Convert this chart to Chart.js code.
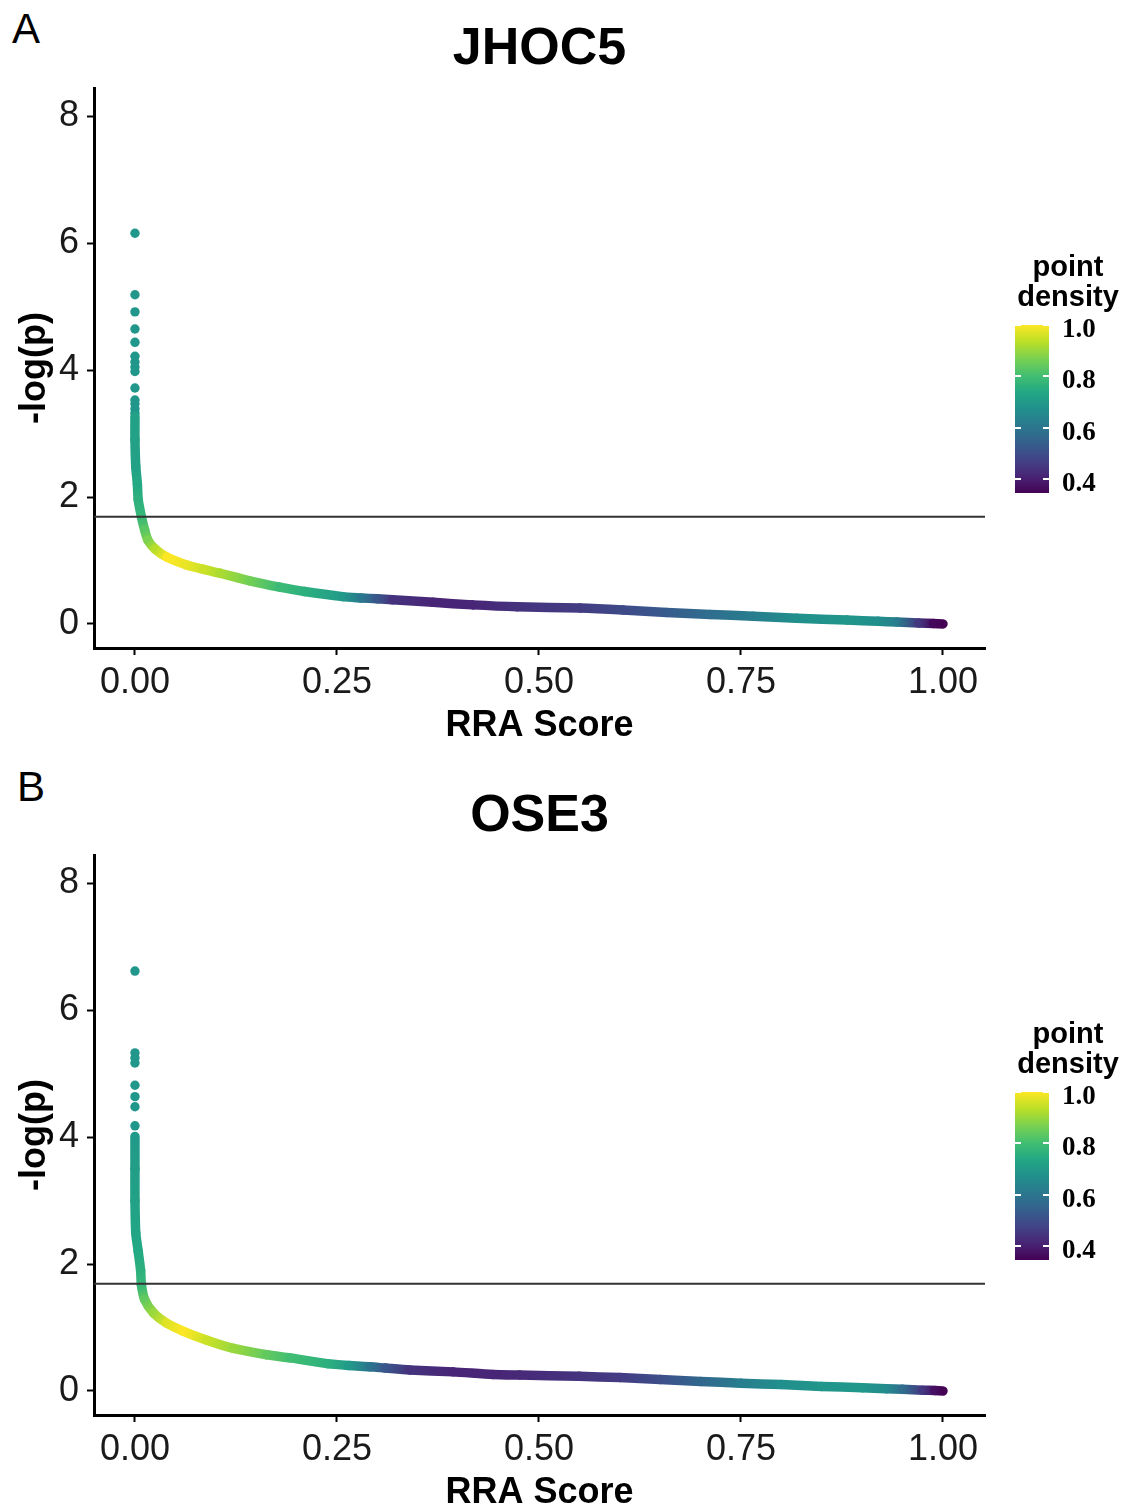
<!DOCTYPE html>
<html>
<head>
<meta charset="utf-8">
<script src="https://cdn.jsdelivr.net/npm/chart.js@4.4.0/dist/chart.umd.min.js"></script>
<style>
  body { margin: 0; background: #fff; font-family: "Liberation Sans", Arial, sans-serif; overflow: hidden; }
  .panel { position: absolute; left: 0; width: 1127px; height: 767px; }
  .panel canvas { position: absolute; left: 0; top: 0; }
  .tag { position: absolute; font-size: 42px; line-height: 42px; color: #000; }
  .legend-title { position: absolute; left: 1008px; width: 120px; top: 251px; text-align: center; font-weight: bold; font-size: 29px; line-height: 30px; color: #000; }
  .bar { position: absolute; left: 1015px; top: 325px; width: 34px; height: 168px; }
  .bar-tick { position: absolute; width: 6px; height: 2px; background: #fff; }
  .bar-label { position: absolute; left: 1062px; font-family: "Liberation Serif", serif; font-weight: bold; font-size: 27px; line-height: 27px; color: #000; transform: translateY(-50%); }
</style>
</head>
<body>
<div class="tag" style="left:12px; top:8px;">A</div>
<div class="tag" style="left:17px; top:766px;">B</div>
<div class="panel" id="panelA" style="top:0px;"><canvas id="chartA" width="1127" height="767"></canvas></div>
<div class="panel" id="panelB" style="top:767px;"><canvas id="chartB" width="1127" height="767"></canvas></div>
<script>
// axis ticks and limits
const xTicks = [0, 0.25, 0.5, 0.75, 1];
const yTicks = [0, 2, 4, 6, 8];
const xMin = -0.0507, xMax = 1.052;
const yMin = -0.38, yMax = 8.45;
const cutoff = 1.69;
const densityTicks = [0.4, 0.6, 0.8, 1.0];
const densityMin = 0.345, densityMax = 1.0;

// JHOC5
const jhocOutlierX = [0, 0, 0, 0, 0, 0, 0, 0, 0, 0, 0, 0, 0, 0];
const jhocOutlierY = [6.16, 5.19, 4.92, 4.65, 4.44, 4.22, 4.13, 4.05, 3.98, 3.72, 3.53, 3.47, 3.39, 3.32];
const jhocOutlierDensity = [0.69, 0.69, 0.69, 0.69, 0.69, 0.69, 0.69, 0.69, 0.69, 0.69, 0.69, 0.69, 0.69, 0.69];
const jhocCurveX = [0.000, 0.000, 0.001, 0.003, 0.004, 0.008, 0.012, 0.016, 0.025, 0.040, 0.064, 0.085, 0.105, 0.142, 0.179, 0.210, 0.257, 0.280, 0.300, 0.319, 0.369, 0.418, 0.473, 0.551, 0.604, 0.658, 0.712, 0.765, 0.819, 0.881, 0.920, 0.943, 0.970, 0.988, 1.000];
const jhocCurveY = [3.27, 2.90, 2.48, 2.20, 1.96, 1.69, 1.48, 1.32, 1.18, 1.05, 0.93, 0.86, 0.80, 0.68, 0.58, 0.51, 0.43, 0.41, 0.395, 0.38, 0.34, 0.30, 0.27, 0.25, 0.22, 0.18, 0.15, 0.12, 0.09, 0.06, 0.04, 0.03, 0.015, 0.005, 0.0];
const jhocDensity = [0.72, 0.72, 0.72, 0.74, 0.76, 0.78, 0.83, 0.87, 0.93, 1.0, 0.98, 0.95, 0.92, 0.86, 0.79, 0.76, 0.70, 0.61, 0.52, 0.44, 0.41, 0.41, 0.44, 0.46, 0.49, 0.53, 0.58, 0.62, 0.67, 0.69, 0.67, 0.62, 0.45, 0.36, 0.345];

// OSE3
const oseOutlierX = [0, 0, 0, 0, 0, 0, 0, 0];
const oseOutlierY = [6.62, 5.33, 5.25, 5.17, 4.82, 4.64, 4.48, 4.18];
const oseOutlierDensity = [0.69, 0.69, 0.69, 0.69, 0.69, 0.69, 0.69, 0.69];
const oseCurveX = [0.000, 0.000, 0.000, 0.001, 0.004, 0.007, 0.008, 0.012, 0.023, 0.039, 0.060, 0.089, 0.122, 0.163, 0.192, 0.238, 0.265, 0.291, 0.310, 0.340, 0.394, 0.443, 0.476, 0.550, 0.600, 0.650, 0.700, 0.750, 0.800, 0.850, 0.900, 0.930, 0.950, 0.975, 0.990, 1.000];
const oseCurveY = [4.01, 3.50, 3.00, 2.49, 2.20, 1.90, 1.67, 1.44, 1.23, 1.07, 0.94, 0.80, 0.67, 0.57, 0.52, 0.43, 0.40, 0.38, 0.36, 0.33, 0.30, 0.26, 0.25, 0.23, 0.21, 0.18, 0.15, 0.12, 0.10, 0.07, 0.05, 0.035, 0.025, 0.012, 0.005, 0.0];
const oseDensity = [0.70, 0.71, 0.72, 0.73, 0.74, 0.76, 0.78, 0.84, 0.90, 0.97, 1.0, 0.95, 0.90, 0.84, 0.80, 0.76, 0.70, 0.60, 0.52, 0.44, 0.41, 0.41, 0.42, 0.44, 0.46, 0.50, 0.56, 0.62, 0.67, 0.69, 0.69, 0.66, 0.58, 0.45, 0.37, 0.345];

const viridis = ['#440154', '#482576', '#414487', '#35608d', '#2a788e', '#21908c', '#22a884', '#43bf71', '#7ad151', '#bbdf27', '#fde725'];
const font = '"Liberation Sans", Arial, sans-serif';
Chart.defaults.font.family = font;

function hexToRgb(h) {
    return [parseInt(h.slice(1, 3), 16), parseInt(h.slice(3, 5), 16), parseInt(h.slice(5, 7), 16)];
}

function densityColor(d) {
    let t = (d - densityMin) / (densityMax - densityMin);
    t = Math.min(1, Math.max(0, t)) * (viridis.length - 1);
    const i = Math.min(viridis.length - 2, Math.floor(t));
    const f = t - i;
    const a = hexToRgb(viridis[i]);
    const b = hexToRgb(viridis[i + 1]);
    const c = a.map((v, k) => Math.round(v + (b[k] - v) * f));
    return 'rgb(' + c.join(',') + ')';
}

function makeChart(canvasId, title, outX, outY, outD, curveX, curveY, curveD) {
    const g2d = document.getElementById(canvasId).getContext('2d');
    const curve = curveX.map((x, i) => ({ x: x, y: curveY[i] }));
    const outliers = outX.map((x, i) => ({ x: x, y: outY[i] }));
    return new Chart(g2d, {
        type: 'scatter',
        data: {
            datasets: [
                {
                    data: [{ x: xMin, y: cutoff }, { x: xMax, y: cutoff }],
                    showLine: true,
                    borderColor: '#333',
                    borderWidth: 2,
                    pointRadius: 0,
                    order: 0
                },
                {
                    data: curve,
                    showLine: true,
                    borderWidth: 9.5,
                    tension: 0.25,
                    borderCapStyle: 'round',
                    borderJoinStyle: 'round',
                    pointRadius: 0,
                    segment: {
                        borderColor: function (ctx) {
                            const grad = g2d.createLinearGradient(ctx.p0.x, ctx.p0.y, ctx.p1.x, ctx.p1.y);
                            grad.addColorStop(0, densityColor(curveD[ctx.p0DataIndex]));
                            grad.addColorStop(1, densityColor(curveD[ctx.p1DataIndex]));
                            return grad;
                        }
                    },
                    order: 1
                },
                {
                    data: outliers,
                    pointRadius: 4.7,
                    pointBorderWidth: 0,
                    pointBackgroundColor: outD.map(densityColor),
                    order: 2
                }
            ]
        },
        options: {
            responsive: false,
            animation: false,
            layout: { padding: { left: 0, right: 142, top: 0, bottom: 0 } },
            plugins: {
                legend: { display: false },
                tooltip: { enabled: false },
                title: {
                    display: true,
                    text: title,
                    fullSize: false,
                    color: '#000',
                    font: { size: 52, weight: 'bold' },
                    padding: { top: 18, bottom: 7.6 }
                }
            },
            scales: {
                x: {
                    type: 'linear',
                    min: xMin,
                    max: xMax,
                    afterFit: function (s) { s.height = 119; },
                    afterBuildTicks: function (s) { s.ticks = xTicks.map(v => ({ value: v })); },
                    ticks: {
                        callback: v => v.toFixed(2),
                        color: '#1a1a1a',
                        font: { size: 36 },
                        padding: 6,
                        maxRotation: 0,
                        autoSkip: false
                    },
                    grid: { drawOnChartArea: false, drawTicks: true, tickLength: 7, tickWidth: 2, tickColor: '#000' },
                    border: { display: true, color: '#000', width: 3 },
                    title: {
                        display: true,
                        text: 'RRA Score',
                        color: '#000',
                        font: { size: 36, weight: 'bold' },
                        padding: { top: 0, bottom: 19.5 }
                    }
                },
                y: {
                    type: 'linear',
                    min: yMin,
                    max: yMax,
                    afterFit: function (s) { s.width = 94; },
                    afterBuildTicks: function (s) { s.ticks = yTicks.map(v => ({ value: v })); },
                    ticks: {
                        callback: v => String(v),
                        color: '#1a1a1a',
                        font: { size: 36 },
                        padding: 8,
                        autoSkip: false
                    },
                    grid: { drawOnChartArea: false, drawTicks: true, tickLength: 7, tickWidth: 2, tickColor: '#000' },
                    border: { display: true, color: '#000', width: 3 },
                    title: {
                        display: true,
                        text: '-log(p)',
                        color: '#000',
                        font: { size: 36, weight: 'bold' },
                        padding: { top: 13.4, bottom: 0 }
                    }
                }
            }
        }
    });
}

function makeLegend(panelId) {
    const panel = document.getElementById(panelId);
    const head = document.createElement('div');
    head.className = 'legend-title';
    head.innerHTML = 'point<br>density';
    panel.appendChild(head);

    const bar = document.createElement('div');
    bar.className = 'bar';
    bar.style.background = 'linear-gradient(to top, ' + viridis.join(', ') + ')';
    panel.appendChild(bar);

    const barTop = 325, barH = 168;
    densityTicks.forEach(function (v) {
        const y = barTop + (densityMax - v) / (densityMax - densityMin) * barH;
        [1015, 1043].forEach(function (x) {
            const t = document.createElement('div');
            t.className = 'bar-tick';
            t.style.left = x + 'px';
            t.style.top = (y - 1) + 'px';
            panel.appendChild(t);
        });
        const lab = document.createElement('div');
        lab.className = 'bar-label';
        lab.style.top = (y + 3) + 'px';
        lab.textContent = v.toFixed(1);
        panel.appendChild(lab);
    });
}

makeChart('chartA', 'JHOC5', jhocOutlierX, jhocOutlierY, jhocOutlierDensity, jhocCurveX, jhocCurveY, jhocDensity);
makeChart('chartB', 'OSE3', oseOutlierX, oseOutlierY, oseOutlierDensity, oseCurveX, oseCurveY, oseDensity);
makeLegend('panelA');
makeLegend('panelB');
</script>
</body>
</html>
